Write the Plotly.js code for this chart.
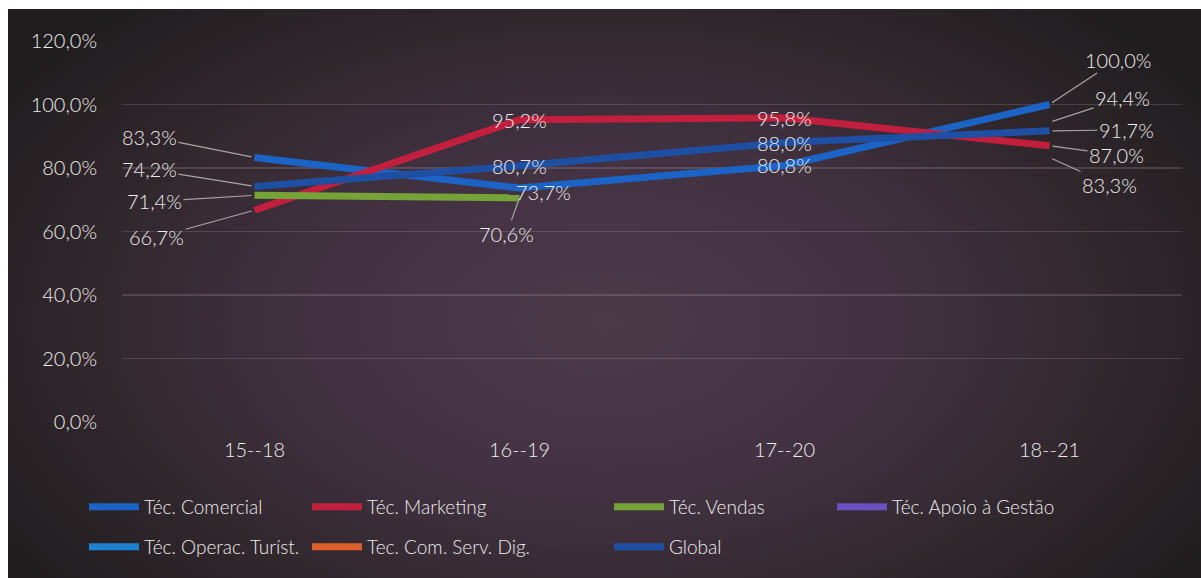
<!DOCTYPE html>
<html>
<head>
<meta charset="utf-8">
<script src="https://cdn.plot.ly/plotly-3.0.1.min.js"></script>
<style>
  html, body { margin:0; padding:0; background:#ffffff; }
  #wrap { position:relative; width:1201px; height:578px; background:#ffffff; overflow:hidden; }
  #bg { position:absolute; left:8px; top:9px; right:0; bottom:0;
        background: radial-gradient(ellipse 720px 430px at 50% 55%, #4c3a49 0%, #423241 40%, #2d2529 78%, #201d1f 100%); }
  #chart { position:absolute; left:0; top:0; width:1201px; height:578px; }
</style>
</head>
<body>
<div id="wrap"><div id="bg"></div><div id="chart"></div></div>
<script>
// ---- data ----
var categories = ['15--18', '16--19', '17--20', '18--21'];
var tecComercial   = [83.3, 73.7, 80.8, 100.0];
var tecMarketing   = [66.7, 95.2, 95.8, 87.0];
var tecVendas      = [71.4, 70.6, null, null];
var tecApoioGestao = [null, null, null, 94.4];
var tecOperacTurist= [null, null, null, 83.3];
var tecComServDig  = [null, null, null, null];
var globalSeries   = [74.2, 80.7, 88.0, 91.7];
var seriesNames = ['Téc. Comercial', 'Téc. Marketing', 'Téc. Vendas', 'Téc. Apoio à Gestão',
                   'Téc. Operac. Turíst.', 'Tec. Com. Serv. Dig.', 'Global'];
var yTicks = [0, 20, 40, 60, 80, 100, 120];

// ---- styles ----
var seriesValues = [tecComercial, tecMarketing, tecVendas, tecApoioGestao, tecOperacTurist, tecComServDig, globalSeries];
var colors = ['#1b64c6', '#c21f3e', '#76a23a', '#6a4fbf', '#1c82d0', '#db602a', '#1e4fa3'];
var legendIds = ['legend', 'legend2', 'legend3', 'legend4', 'legend5', 'legend6', 'legend7'];
var legendPos = [[84, 507], [307, 507], [609, 507], [832, 507], [84, 547], [307, 547], [609, 547]];
var FONT = 'Lato, "Open Sans", sans-serif';
var TXT = '#ececec';

// label placement per series/point: [seriesIndex, pointIndex, ax, ay, arrow, xshift, yshift]
var labelPlacement = [
  [0, 0, -105, -21, true], [6, 0, -105, -17, true], [2, 0, -100, 6, true], [1, 0, -98, 27, true],
  [1, 1, 0, 0, false, 0, 0], [6, 1, 0, 0, false, 0, 0], [0, 1, 0, 0, false, 24, -4], [2, 1, -13, 36, true],
  [1, 2, 0, 0, false, 0, 0], [6, 2, 0, 0, false, 0, 0], [0, 2, 0, 0, false, 0, 0],
  [0, 3, 68, -45, true], [3, 3, 73, -24, true], [6, 3, 77, -1, true], [1, 3, 67, 9, true], [4, 3, 60, 27, true]
];

function fmt(v) { return v.toFixed(1).replace('.', ',') + '%'; }

var traces = seriesValues.map(function (vals, i) {
  return {
    type: 'scatter', mode: 'lines', x: categories, y: vals, name: seriesNames[i],
    line: { color: colors[i], width: 7 },
    connectgaps: false, hoverinfo: 'skip',
    legend: legendIds[i]
  };
});

var annotations = labelPlacement.map(function (p) {
  var v = seriesValues[p[0]][p[1]];
  var a = {
    x: categories[p[1]], y: v, xref: 'x', yref: 'y', text: fmt(v),
    font: { family: FONT, size: 20, color: TXT, weight: 300 }
  };
  if (p[4]) {
    a.showarrow = true; a.arrowhead = 0; a.arrowwidth = 1.2; a.arrowcolor = '#a8a4a6';
    a.ax = p[2]; a.ay = p[3]; a.axref = 'pixel'; a.ayref = 'pixel'; a.standoff = 3;
  } else {
    a.showarrow = false; a.xshift = p[5]; a.yshift = p[6];
  }
  return a;
});

var layout = {
  width: 1201, height: 578,
  paper_bgcolor: 'rgba(0,0,0,0)', plot_bgcolor: 'rgba(0,0,0,0)',
  separators: ', ',
  margin: { l: 122, r: 19, t: 41, b: 156, pad: 0, autoexpand: false },
  showlegend: true,
  font: { family: FONT, size: 19, color: TXT },
  xaxis: {
    type: 'category', range: [-0.5, 3.5], showgrid: false, zeroline: false, showline: false,
    ticks: '', ticklabelstandoff: 14, tickfont: { family: FONT, size: 20, color: TXT, weight: 300 }, fixedrange: true,
    automargin: false
  },
  yaxis: {
    range: [0, 120], tickvals: yTicks, ticktext: yTicks.map(fmt),
    showgrid: true, gridcolor: 'rgba(205,180,195,0.2)', gridwidth: 1.2, zeroline: false, showline: false,
    ticks: '', ticklabelstandoff: 24, tickfont: { family: FONT, size: 20, color: TXT, weight: 300 }, fixedrange: true,
    automargin: false
  },
  annotations: annotations
};

legendIds.forEach(function (id, i) {
  layout[id] = {
    x: legendPos[i][0] / 1201, y: 1 - legendPos[i][1] / 578, xref: 'container', yref: 'container',
    xanchor: 'left', yanchor: 'middle', orientation: 'v', bgcolor: 'rgba(0,0,0,0)', borderwidth: 0,
    itemwidth: 50, font: { family: FONT, size: 19, color: TXT, weight: 300 }
  };
});

Plotly.newPlot('chart', traces, layout, { displayModeBar: false, staticPlot: true });
</script>
</body>
</html>
